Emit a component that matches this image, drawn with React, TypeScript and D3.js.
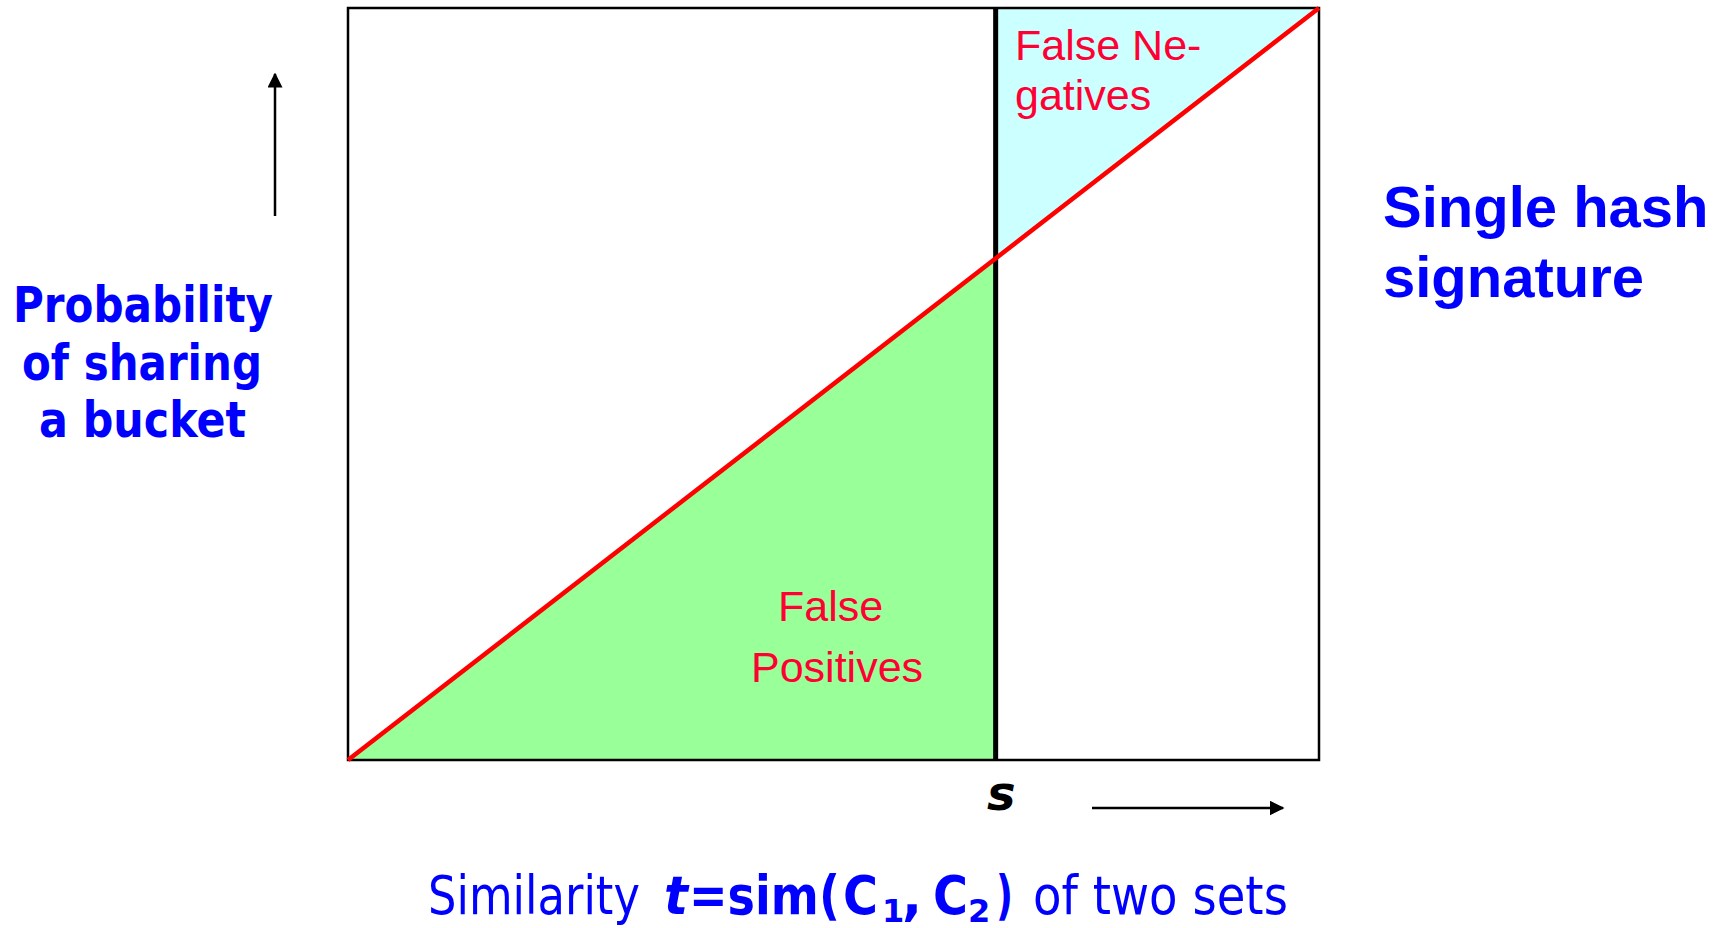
import React, { useLayoutEffect, useRef, useState } from "react";
import * as d3 from "d3";

// Data
const similarityDomain = [0, 1];
const probabilityDomain = [0, 1];
const threshold = 0.667; // s
const singleHashCurve: [number, number][] = [
  [0, 0],
  [1, 1],
];
const yLabelLines = ["Probability", "of sharing", "a bucket"];
const titleLines = ["Single hash", "signature"];
const falseNegLines = ["False Ne-", "gatives"];
const falsePosLines = ["False", "Positives"];

const W = 1729;
const H = 928;

type FitProps = {
  x: number;
  y: number;
  w: number;
  children: string;
  [k: string]: any;
};

function FitText({ x, y, w, children, ...rest }: FitProps) {
  const ref = useRef<SVGTextElement>(null);
  const [s, setS] = useState(1);
  useLayoutEffect(() => {
    if (ref.current) {
      const len = ref.current.getComputedTextLength();
      if (len > 0) setS(w / len);
    }
  }, [w, children]);
  return (
    <text
      ref={ref}
      x={0}
      y={0}
      transform={`translate(${x},${y}) scale(${s},1)`}
      {...rest}
    >
      {children}
    </text>
  );
}

export default function App() {
  const x = d3.scaleLinear().domain(similarityDomain).range([348, 1319]);
  const y = d3.scaleLinear().domain(probabilityDomain).range([760, 8]);
  const curveAt = (t: number) => t; // single hash: P = t
  const line = d3
    .line<[number, number]>()
    .x((d) => x(d[0]))
    .y((d) => y(d[1]));

  const greenPts: [number, number][] = [
    [0, 0],
    [threshold, curveAt(threshold)],
    [threshold, 0],
  ];
  const cyanPts: [number, number][] = [
    [threshold, curveAt(threshold)],
    [1, 1],
    [threshold, 1],
  ];
  const poly = (pts: [number, number][]) =>
    pts.map((p) => `${x(p[0])},${y(p[1])}`).join(" ");

  const blue = "#0000ff";
  const red = "#ff0033";
  const tahoma = "'DejaVu Sans', Verdana, sans-serif";
  const arial = "'Liberation Sans', Arial, sans-serif";

  const yLabelX = [13, 22, 39];
  const yLabelW = [260, 240, 207];
  const yLabelY = [322, 380, 437];

  return (
    <svg
      width={W}
      height={H}
      style={{ position: "fixed", left: 0, top: 0, background: "#fff" }}
    >
      <defs>
        <marker
          id="ah"
          viewBox="0 0 10 10"
          refX="9"
          refY="5"
          markerWidth="6"
          markerHeight="6"
          markerUnits="strokeWidth"
          orient="auto"
        >
          <path d="M0,0 L10,5 L0,10 z" fill="#000" />
        </marker>
      </defs>

      {/* fills */}
      <polygon points={poly(greenPts)} fill="#99ff99" />
      <polygon points={poly(cyanPts)} fill="#ccffff" />

      {/* frame */}
      <rect
        x={x(0)}
        y={y(1)}
        width={x(1) - x(0)}
        height={y(0) - y(1)}
        fill="none"
        stroke="#000"
        strokeWidth={2.5}
      />

      {/* threshold line */}
      <line
        x1={x(threshold)}
        x2={x(threshold)}
        y1={y(1)}
        y2={y(0)}
        stroke="#000"
        strokeWidth={5}
      />

      {/* curve */}
      <path
        d={line(singleHashCurve) || ""}
        fill="none"
        stroke="#ff0000"
        strokeWidth={4.5}
      />

      {/* region labels */}
      {falseNegLines.map((t, i) => (
        <text
          key={t}
          x={1015}
          y={60 + i * 50}
          fontFamily={arial}
          fontSize={43}
          fill={red}
        >
          {t}
        </text>
      ))}
      <text x={778} y={621} fontFamily={arial} fontSize={43} fill={red}>
        {falsePosLines[0]}
      </text>
      <text x={751} y={682} fontFamily={arial} fontSize={43} fill={red}>
        {falsePosLines[1]}
      </text>

      {/* s label */}
      <text
        x={987}
        y={810}
        fontFamily={tahoma}
        fontWeight="bold"
        fontStyle="italic"
        fontSize={48}
        fill="#000"
      >
        s
      </text>

      {/* arrows */}
      <line
        x1={275}
        y1={216}
        x2={275}
        y2={74}
        stroke="#000"
        strokeWidth={2.5}
        markerEnd="url(#ah)"
      />
      <line
        x1={1092}
        y1={808}
        x2={1283}
        y2={808}
        stroke="#000"
        strokeWidth={2.5}
        markerEnd="url(#ah)"
      />

      {/* y label */}
      {yLabelLines.map((t, i) => (
        <FitText
          key={t}
          x={yLabelX[i]}
          y={yLabelY[i]}
          w={yLabelW[i]}
          fontFamily={tahoma}
          fontWeight="bold"
          fontSize={50}
          fill={blue}
        >
          {t}
        </FitText>
      ))}

      {/* title */}
      {titleLines.map((t, i) => (
        <text
          key={t}
          x={1383}
          y={227 + i * 70}
          fontFamily={arial}
          fontWeight="bold"
          fontSize={58}
          fill={blue}
        >
          {t}
        </text>
      ))}

      {/* x label */}
      <g fill={blue} fontFamily={tahoma} fontSize={53}>
        <FitText x={428} y={914} w={212}>
          Similarity
        </FitText>
        <FitText x={664} y={914} w={24} fontWeight="bold" fontStyle="italic">
          t
        </FitText>
        <FitText x={689} y={914} w={151} fontWeight="bold">
          =sim(
        </FitText>
        <FitText x={843} y={914} w={35} fontWeight="bold">
          C
        </FitText>
        <text x={882} y={922} fontWeight="bold" fontSize={32}>
          1
        </text>
        <text x={902} y={914} fontWeight="bold">
          ,
        </text>
        <FitText x={933} y={914} w={35} fontWeight="bold">
          C
        </FitText>
        <text x={968} y={922} fontWeight="bold" fontSize={32}>
          2
        </text>
        <FitText x={996} y={914} w={17} fontWeight="bold">
          )
        </FitText>
        <FitText x={1033} y={914} w={255}>
          of two sets
        </FitText>
      </g>
    </svg>
  );
}
